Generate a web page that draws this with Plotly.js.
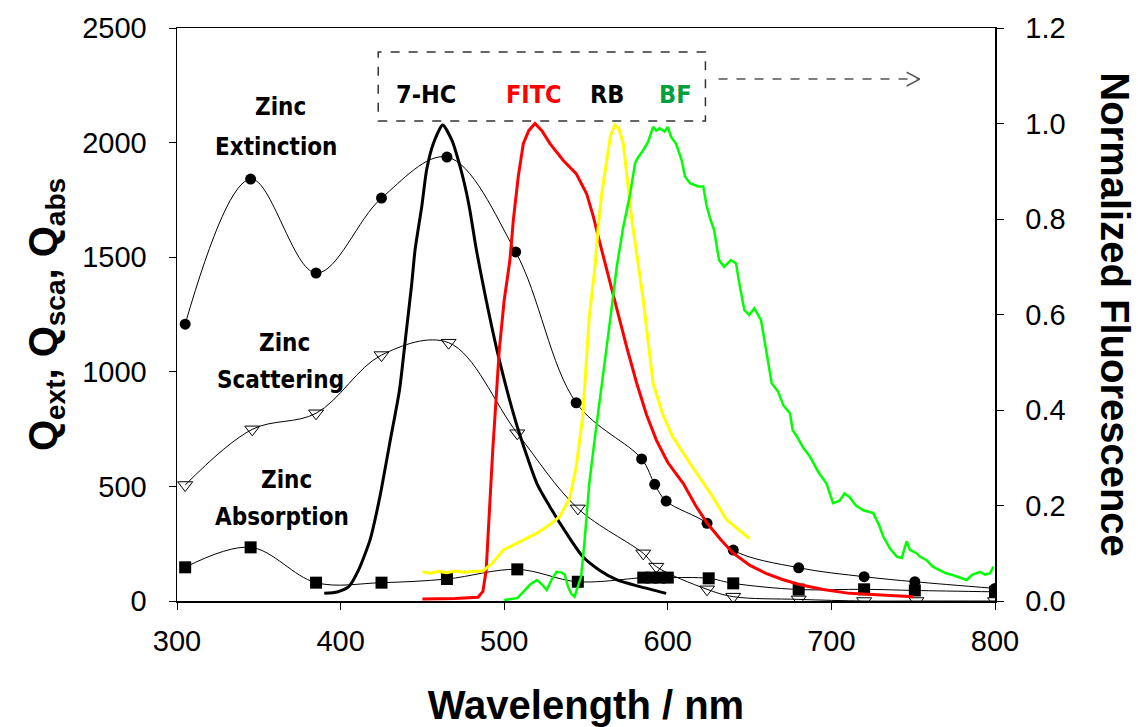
<!DOCTYPE html>
<html>
<head>
<meta charset="utf-8">
<script src="https://cdn.plot.ly/plotly-3.0.1.min.js"></script>
<style>html,body{margin:0;padding:0;background:#fff;}#chart{width:1138px;height:727px;}</style>
</head>
<body>
<div id="chart"></div>
<script>
// Zinc (left axis)
const extX = [305,345,385,425,465,507,544,584,592,599,624,640,680,720,751,800];
const extY = [1208,1841,1431,1758,1937,1523,865,620,509,436,339,222,145,106,84,55];
const scaX = [305,346,385,425,466,508,545,585,593,624,640,680,720,752,800];
const scaY = [506,749,819,1073,1127,732,404,208,150,51,19,7,0,0,0];
const absX = [305,345,385,425,465,508,545,585,590,595,600,625,640,680,720,751,800];
const absY = [147,234,80,80,96,138,84,102,102,102,102,99,77,50,51,46,40];

// Normalized fluorescence (right axis)
const hcX = [390,398,405,411,418,424,430,436,440,443.5,445.5,449.6,452.6,456.7,462.4,468,473,477,479,483,489,497,508,520,528,538,548,558,569,583,599];
const hcY = [0.016,0.019,0.03,0.065,0.128,0.218,0.33,0.442,0.56,0.665,0.735,0.826,0.903,0.958,0.997,0.965,0.91,0.854,0.819,0.735,0.63,0.505,0.365,0.246,0.197,0.142,0.093,0.065,0.044,0.03,0.016];

const fitcX = [450,470,484,487,489,491,493,497,500,503.5,505.6,508.6,511.7,515,518.8,523,528,536,544,550.4,554.5,557.5,562.7,569,575,581,587,593,600,609.5,617,624,632,640,650,660,670,681,695,711,730,750];
const fitcY = [0.004,0.005,0.008,0.02,0.065,0.2,0.316,0.526,0.63,0.714,0.798,0.889,0.958,0.985,1.0,0.985,0.958,0.923,0.895,0.853,0.805,0.763,0.693,0.61,0.53,0.456,0.39,0.337,0.29,0.246,0.2,0.163,0.13,0.10,0.075,0.058,0.045,0.034,0.024,0.016,0.012,0.009];

const rbX = [450,455,460,465,470,475,480,487,493,499.5,510,520,528,534,540,544,548,552,555.5,557.5,559.6,562.7,565,567.7,570,572.8,575,578,581,585,591,597,603,613.6,626,636,643,650];
const rbY = [0.061,0.058,0.062,0.059,0.063,0.06,0.062,0.063,0.08,0.107,0.125,0.142,0.16,0.177,0.215,0.28,0.386,0.595,0.70,0.784,0.853,0.923,0.975,0.997,0.99,0.958,0.889,0.798,0.728,0.63,0.456,0.39,0.344,0.288,0.226,0.17,0.15,0.131];

const bfX = [500,504,508,512,516,520,523,526,529,532,535,537,539,541,543,545,547,549,552,555,558.5,562,565,568.8,572.8,577,580,582,585,588,591,593,595,598,600,602,605,608.5,610.5,613.6,616,618.6,621.7,623.8,626,628.3,631.3,634.4,638.6,641.7,644,646.8,649.8,652.9,657,660,661.4,663.5,667.5,670.6,674.7,676.3,679,683,687,692,697,701,705,708,711,715,719.5,725.6,729,731.7,735.8,740,743,746,748,752,754,758,762,766,770,774.5,778,782.7,786,790.8,794,797,799];
const bfY = [0.002,0.004,0.006,0.02,0.035,0.044,0.035,0.023,0.045,0.061,0.06,0.055,0.03,0.015,0.009,0.03,0.051,0.12,0.246,0.33,0.42,0.51,0.595,0.70,0.784,0.853,0.917,0.93,0.944,0.962,0.993,0.985,0.99,0.983,0.993,0.972,0.958,0.923,0.889,0.875,0.872,0.868,0.868,0.826,0.80,0.777,0.714,0.70,0.714,0.707,0.66,0.609,0.599,0.613,0.588,0.526,0.498,0.456,0.438,0.41,0.393,0.358,0.344,0.32,0.302,0.27,0.246,0.205,0.21,0.225,0.218,0.2,0.19,0.184,0.16,0.135,0.11,0.093,0.09,0.125,0.107,0.10,0.093,0.086,0.072,0.065,0.058,0.054,0.05,0.044,0.055,0.061,0.055,0.058,0.072];

// Text labels
const zincLabels = ['Zinc','Extinction','Zinc','Scattering','Zinc','Absorption'];
const zincLabelX = [363,361,366,363,367,364];
const zincLabelY = [2155,1981,1126,964,528,366];
const dyeLabels = ['7-HC','FITC','RB','BF'];
const dyeLabelX = [452,518,563,605];
const dyeColors = ['#000000','#ff0000','#000000','#00a040'];
const dyeLabelY = 2208;
const boxX = [423,623];
const boxY = [2094,2395];
const arrowX = [631,754];
const arrowY = 2277;

const zincLine = {color:'#000', width:1, shape:'spline', smoothing:1};
const traces = [
  {x:extX, y:extY, mode:'lines+markers', line:zincLine, marker:{symbol:'circle', size:11, color:'#000'}, yaxis:'y'},
  {x:scaX, y:scaY, mode:'lines+markers', line:zincLine, marker:{symbol:'triangle-down-open', size:13, color:'#000', line:{width:1,color:'#000'}}, yaxis:'y'},
  {x:absX, y:absY, mode:'lines+markers', line:zincLine, marker:{symbol:'square', size:12, color:'#000'}, yaxis:'y'},
  {x:hcX, y:hcY, mode:'lines', line:{color:'#000', width:3, shape:'spline', smoothing:0.6}, yaxis:'y2'},
  {x:fitcX, y:fitcY, mode:'lines', line:{color:'#ff0000', width:3}, yaxis:'y2'},
  {x:rbX, y:rbY, mode:'lines', line:{color:'#ffff00', width:3}, yaxis:'y2'},
  {x:bfX, y:bfY, mode:'lines', line:{color:'#00ff00', width:2.5}, yaxis:'y2'}
];

const labelFont = {family:'DejaVu Sans Condensed, DejaVu Sans, sans-serif', size:24, color:'#000'};
const annotations = [];
zincLabels.forEach((t,i)=>annotations.push({x:zincLabelX[i], y:zincLabelY[i], xref:'x', yref:'y', text:'<b>'+t+'</b>', showarrow:false, font:labelFont}));
dyeLabels.forEach((t,i)=>annotations.push({x:dyeLabelX[i], y:dyeLabelY, xref:'x', yref:'y', text:'<b>'+t+'</b>', showarrow:false, font:Object.assign({}, labelFont, {size:25, color:dyeColors[i]})}));
annotations.push({xref:'paper', yref:'paper', x:1.147, y:0.50, xanchor:'center', yanchor:'middle', text:'<b>Normalized Fluorescence</b>', textangle:90, showarrow:false, font:{family:'Liberation Sans, Arial, sans-serif', size:40, color:'#000'}});

const shapes = [
  {type:'rect', xref:'x', yref:'y', x0:boxX[0], x1:boxX[1], y0:boxY[0], y1:boxY[1], line:{color:'#333', width:1.5, dash:'dash'}},
  {type:'line', xref:'x', yref:'y', x0:arrowX[0], x1:arrowX[1], y0:arrowY, y1:arrowY, line:{color:'#555', width:1.5, dash:'dash'}},
  {type:'line', xref:'x', yref:'y', x0:arrowX[1]-8, x1:arrowX[1], y0:arrowY+30, y1:arrowY, line:{color:'#555', width:1.5}},
  {type:'line', xref:'x', yref:'y', x0:arrowX[1]-8, x1:arrowX[1], y0:arrowY-30, y1:arrowY, line:{color:'#555', width:1.5}}
];

const tickFont = {family:'Liberation Sans, Arial, sans-serif', size:29, color:'#000'};
const layout = {
  width:1138, height:727,
  margin:{l:177, r:143, t:28, b:126},
  paper_bgcolor:'#fff', plot_bgcolor:'#fff',
  showlegend:false, hovermode:false,
  xaxis:{range:[300,800], dtick:100, tick0:300, showgrid:false, zeroline:false, showline:true, linecolor:'#000', linewidth:1.5, mirror:true, ticks:'outside', ticklen:7, tickcolor:'#000', tickfont:tickFont, ticklabelstandoff:7,
    title:{text:'<b>Wavelength / nm</b>', font:{family:'Liberation Sans, Arial, sans-serif', size:40, color:'#000'}, standoff:34}},
  yaxis:{range:[0,2500], dtick:500, showgrid:false, zeroline:false, showline:true, linecolor:'#000', linewidth:1.5, ticks:'outside', ticklen:7, tickcolor:'#000', tickfont:tickFont, ticklabelstandoff:16,
    title:{text:'<b>Q<sub>ext</sub>, Q<sub>sca</sub>, Q<sub>abs</sub></b>', font:{family:'Liberation Sans, Arial, sans-serif', size:40, color:'#000'}, standoff:12}},
  yaxis2:{range:[0,1.2], dtick:0.2, tickformat:'.1f', overlaying:'y', side:'right', showgrid:false, zeroline:false, showline:true, linecolor:'#000', linewidth:1.5, ticks:'outside', ticklen:7, tickcolor:'#000', tickfont:tickFont, ticklabelstandoff:16},
  annotations:annotations,
  shapes:shapes
};
Plotly.newPlot('chart', traces, layout, {displayModeBar:false, staticPlot:true});
</script>
</body>
</html>
